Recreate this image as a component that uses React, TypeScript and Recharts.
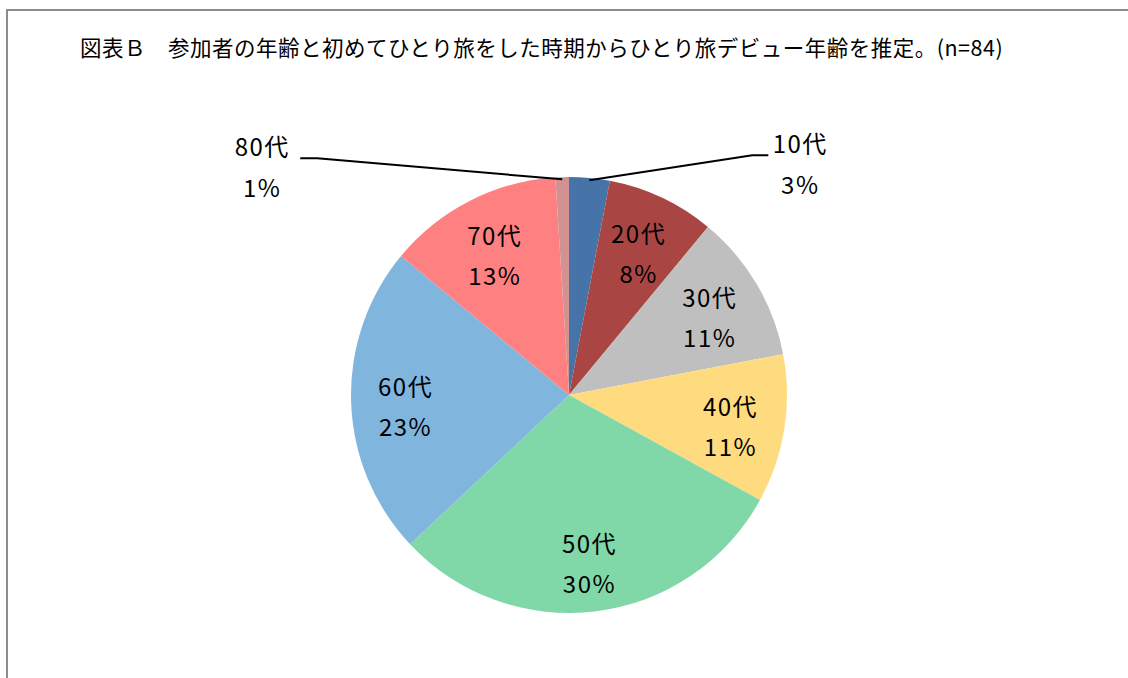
import { PieChart, Pie, Cell } from "recharts"

// 年代別のひとり旅デビュー（%）
const ageGroups = ["10代", "20代", "30代", "40代", "50代", "60代", "70代", "80代"]
const shares = [3, 8, 11, 11, 30, 23, 13, 1]
const sliceColors = ["#4774A8", "#A94644", "#BFBFBF", "#FFDB80", "#80D8A8", "#80B5DE", "#FF8080", "#D29292"]

const data = ageGroups.map((name, i) => ({ name, value: shares[i] }))

const TITLE = "図表Ｂ　参加者の年齢と初めてひとり旅をした時期からひとり旅デビュー年齢を推定。(n=84)"
const FONT = "'Noto Sans CJK JP', 'Noto Sans', sans-serif"
const RAD = Math.PI / 180

// small slices get their label pulled outside with a leader line
const outside: Record<string, { ex: number; ey: number; tail: number }> = {
  "10代": { ex: 163, ey: -25, tail: 16 },
  "80代": { ex: -245, ey: -21, tail: -17 },
}

const labelText = { fontSize: 24, fontFamily: FONT, fill: "#000", letterSpacing: 1.5 }

const renderLabel = (props: any) => {
  const { cx, cy, midAngle, outerRadius, name, percent } = props
  const pct = `${Math.round(percent * 100)}%`
  const cos = Math.cos(-midAngle * RAD)
  const sin = Math.sin(-midAngle * RAD)
  const o = outside[name]
  if (o) {
    const sx = cx + outerRadius * 0.99 * cos
    const sy = cy + outerRadius * 0.99 * sin
    const mx = sx + o.ex
    const my = sy + o.ey
    const lx = mx + o.tail
    const tx = lx + (o.tail > 0 ? 32 : -38)
    return (
      <g>
        <polyline points={`${sx},${sy} ${mx},${my} ${lx},${my}`} fill="none" stroke="#000" strokeWidth={2} />
        <text x={tx} y={my - 13} textAnchor="middle" dominantBaseline="central" {...labelText}>
          {name}
        </text>
        <text x={tx} y={my + 28} textAnchor="middle" dominantBaseline="central" {...labelText}>
          {pct}
        </text>
      </g>
    )
  }
  const r = outerRadius * 0.75
  const x = cx + r * cos
  const y = cy + r * sin + 5
  return (
    <g>
      <text x={x} y={y - 20} textAnchor="middle" dominantBaseline="central" {...labelText}>
        {name}
      </text>
      <text x={x} y={y + 20} textAnchor="middle" dominantBaseline="central" {...labelText}>
        {pct}
      </text>
    </g>
  )
}

export default function App() {
  return (
    <div style={{ position: "fixed", left: 0, top: 0, width: 1128, height: 678, background: "#fff", overflow: "hidden" }}>
      <div
        style={{
          position: "absolute",
          left: 6,
          top: 9,
          width: 1130,
          height: 680,
          borderLeft: "2px solid #8c8c8c",
          borderTop: "2px solid #8c8c8c",
        }}
      />
      <div
        style={{
          position: "absolute",
          left: 80,
          top: 33,
          fontSize: 21.5,
          letterSpacing: 0.5,
          fontFamily: FONT,
          color: "#000",
          whiteSpace: "nowrap",
          lineHeight: "28px",
        }}
      >
        {TITLE}
      </div>
      <div style={{ position: "absolute", left: 0, top: 0 }}>
        <PieChart width={1128} height={678} margin={{ top: 0, right: 0, bottom: 0, left: 0 }}>
          <Pie
            data={data}
            dataKey="value"
            nameKey="name"
            cx={569}
            cy={395}
            outerRadius={218}
            startAngle={90}
            endAngle={-270}
            stroke="none"
            label={renderLabel}
            labelLine={false}
            isAnimationActive={false}
          >
            {data.map((d, i) => (
              <Cell key={d.name} fill={sliceColors[i]} />
            ))}
          </Pie>
        </PieChart>
      </div>
    </div>
  )
}
